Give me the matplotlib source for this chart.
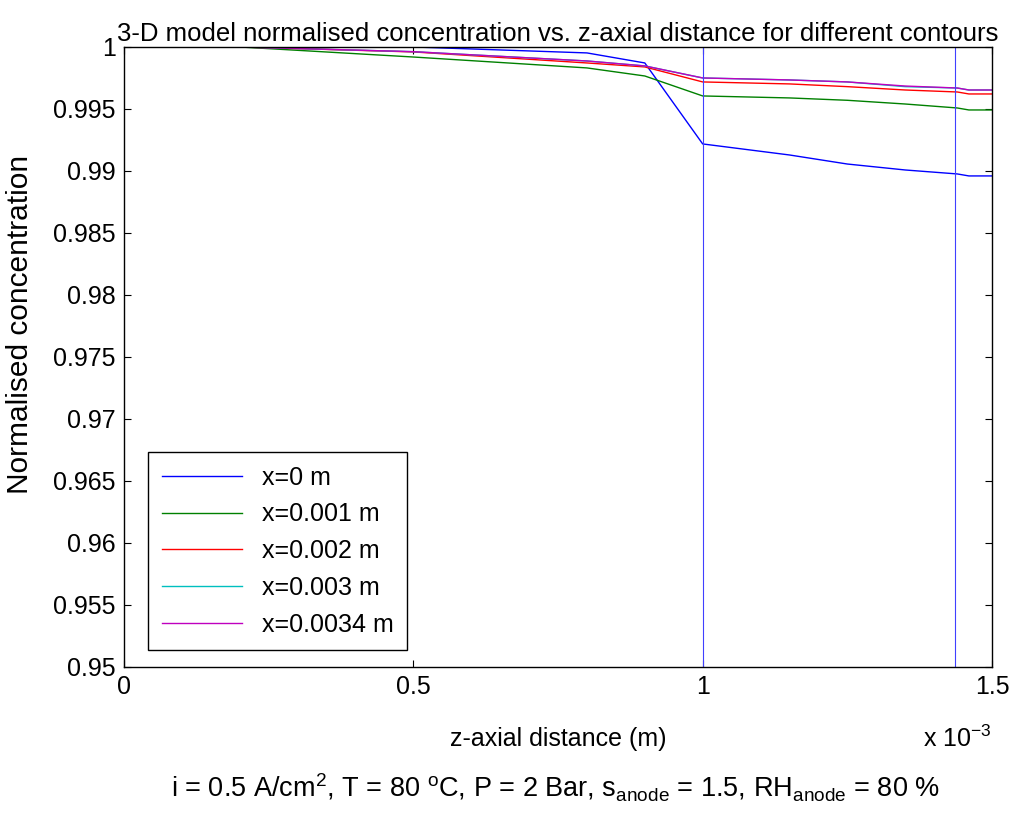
import numpy as np
import matplotlib
matplotlib.use('Agg')
import matplotlib.pyplot as plt

plt.rcParams['font.family'] = ['Liberation Sans', 'DejaVu Sans']
plt.rcParams['mathtext.default'] = 'regular'

# z-axial distance, in units of 1e-3 m
z = np.array([0, 0.2, 0.5, 0.8, 0.9, 1.0, 1.15, 1.25, 1.35, 1.44, 1.46, 1.5])
c_x0 = [1, 1, 1.0, 0.99952, 0.99871, 0.99218, 0.99129, 0.99056, 0.99008, 0.98976, 0.98960, 0.98960]
c_x001 = [1, 1, 0.99919, 0.99831, 0.99766, 0.99605, 0.99589, 0.99570, 0.99540, 0.99508, 0.99492, 0.99492]
c_x002 = [1, 1, 0.99960, 0.99871, 0.99839, 0.99718, 0.99702, 0.99680, 0.99653, 0.99637, 0.99621, 0.99621]
c_x003 = [1, 1, 0.99962, 0.99887, 0.99847, 0.99750, 0.99734, 0.99718, 0.99680, 0.99669, 0.99653, 0.99653]
c_x0034 = [1, 1, 0.99962, 0.99887, 0.99847, 0.99750, 0.99734, 0.99718, 0.99685, 0.99669, 0.99653, 0.99653]
labels = ['x=0 m', 'x=0.001 m', 'x=0.002 m', 'x=0.003 m', 'x=0.0034 m']
colors = ['#0000ff', '#008000', '#ff0000', '#00bfbf', '#bf00bf']
vlines = [1.0, 1.436]

fs = 18
fig = plt.figure(figsize=(10.13, 8.14), dpi=100)
ax = fig.add_axes([0.1224, 0.1806, 0.8569, 0.7617])

for yv, lab, col in zip([c_x0, c_x001, c_x002, c_x003, c_x0034], labels, colors):
    ax.plot(z, yv, color=col, lw=1.0, label=lab)
for v in vlines:
    ax.axvline(v, color='#4040ff', lw=0.8)

ax.set_xlim(0, 1.5)
ax.set_ylim(0.95, 1.0)
ax.set_xticks([0, 0.5, 1, 1.5])
ax.set_xticklabels(['0', '0.5', '1', '1.5'])
yt = np.arange(0.95, 1.0001, 0.005)
ax.set_yticks(yt)
ax.set_yticklabels(['%g' % round(t, 3) for t in yt])
ax.tick_params(direction='in', top=True, right=True, labelsize=fs, length=5, pad=6)
for s in ax.spines.values():
    s.set_linewidth(1.0)

ax.set_title('3-D model normalised concentration vs. z-axial distance for different contours',
             fontsize=18.5, pad=4)
ax.set_xlabel('z-axial distance (m)', fontsize=fs, labelpad=20)
ax.set_ylabel('Normalised concentration', fontsize=21.5)
ax.yaxis.set_label_coords(-0.1035, 0.553)
fig.text(0.945, 0.082, 'x 10$^{-3}$', fontsize=fs, ha='center')
fig.text(0.548, 0.02, 'i = 0.5 A/cm$^2$, T = 80 $^o$C, P = 2 Bar, s$_{anode}$ = 1.5, RH$_{anode}$ = 80 %',
         fontsize=19.5, ha='center', va='baseline')

leg = ax.legend(loc='lower left', bbox_to_anchor=(0.0276, 0.027), fontsize=fs,
                fancybox=False, edgecolor='black', framealpha=1, handlelength=3.2,
                borderpad=0.55, labelspacing=0.51, borderaxespad=0)
leg.get_frame().set_linewidth(1.0)

fig.savefig('out.png', dpi=100)
